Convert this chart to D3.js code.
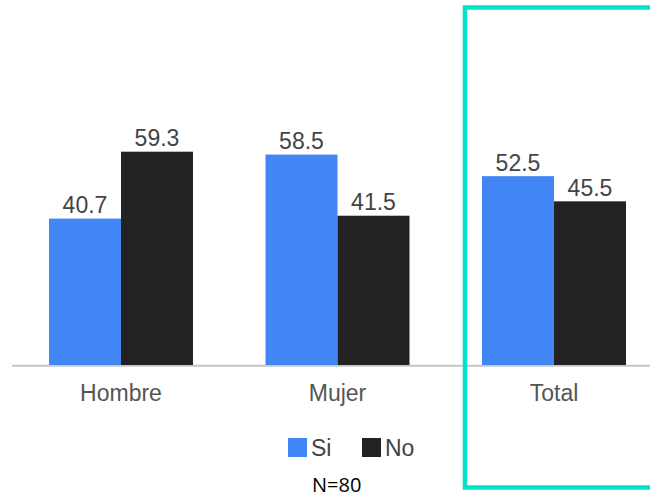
<!DOCTYPE html>
<html>
<head>
<meta charset="utf-8">
<script src="https://cdn.jsdelivr.net/npm/d3@7"></script>
<style>
  html, body { margin: 0; padding: 0; background: #fff; }
  svg { display: block; }
</style>
</head>
<body>
<svg id="chart" width="650" height="498"></svg>
<script>
const categories = ["Hombre", "Mujer", "Total"];
const seriesNames = ["Si", "No"];
const siValues = [40.7, 58.5, 52.5];
const noValues = [59.3, 41.5, 45.5];
const colors = ["#4285f4", "#222222"];
const note = "N=80";

const svg = d3.select("#chart");
const W = 650, H = 498;
const font = "'Liberation Sans', Arial, sans-serif";

const x = d3.scaleBand().domain(categories).range([12.75, 662.25]).paddingInner(0.335).paddingOuter(0.1675);
const xs = d3.scaleBand().domain(seriesNames).range([0, x.bandwidth()]);
const y = d3.scaleLinear().domain([0, 60]).range([365, 365 - 60 * 3.597]);

const data = categories.map((c, i) => ({cat: c, vals: [siValues[i], noValues[i]]}));

// baseline
svg.append("line").attr("x1", 12).attr("x2", W).attr("y1", 365.8).attr("y2", 365.8)
  .attr("stroke", "#c6c6c6").attr("stroke-width", 2);

const g = svg.selectAll("g.cat").data(data).enter().append("g")
  .attr("class", "cat").attr("transform", d => `translate(${x(d.cat)},0)`);

g.selectAll("rect").data(d => d.vals.map((v, j) => ({s: seriesNames[j], v, j}))).enter()
  .append("rect")
  .attr("x", d => xs(d.s)).attr("width", xs.bandwidth())
  .attr("y", d => y(d.v)).attr("height", d => y(0) - y(d.v))
  .attr("fill", d => colors[d.j]);

g.selectAll("text.val").data(d => d.vals.map((v, j) => ({s: seriesNames[j], v, j}))).enter()
  .append("text").attr("class", "val")
  .attr("x", d => xs(d.s) + xs.bandwidth() / 2).attr("y", d => y(d.v) - 5.5)
  .attr("text-anchor", "middle").attr("font-family", font).attr("font-size", 23)
  .attr("fill", "#444").text(d => d.v.toFixed(1));

// category labels via axis
const axis = svg.append("g").attr("transform", "translate(0,365)")
  .call(d3.axisBottom(x).tickSize(0).tickPadding(0));
axis.select(".domain").remove();
axis.selectAll("text").attr("font-family", font).attr("font-size", 23).attr("fill", "#555")
  .attr("dy", null).attr("y", 36);

// legend
const leg = svg.append("g");
const legX = [288, 362];
seriesNames.forEach((s, i) => {
  leg.append("rect").attr("x", legX[i]).attr("y", 438).attr("width", 19).attr("height", 19).attr("fill", colors[i]);
  leg.append("text").attr("x", legX[i] + 23).attr("y", 456).attr("font-family", font)
    .attr("font-size", 23).attr("fill", "#444").text(s);
});

svg.append("text").attr("x", 312).attr("y", 492).attr("font-family", "'Open Sans', 'Liberation Sans', sans-serif")
  .attr("font-size", 20).attr("fill", "#000").text(note);

// highlight box
svg.append("rect").attr("x", 465).attr("y", 7.5).attr("width", 200).attr("height", 480)
  .attr("fill", "none").attr("stroke", "#00e2cc").attr("stroke-width", 4.5);
</script>
</body>
</html>
